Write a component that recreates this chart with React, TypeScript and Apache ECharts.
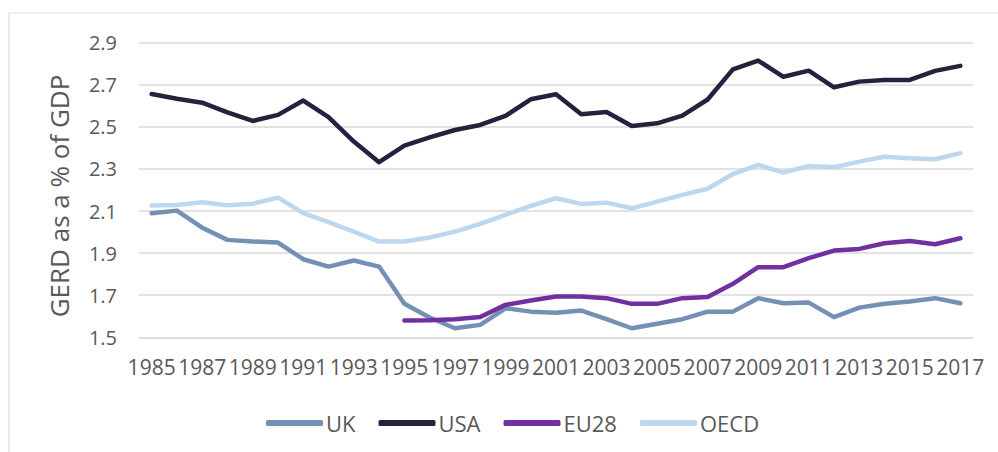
import React, { useEffect, useRef } from "react";
import * as echarts from "echarts";

const years: string[] = [];
for (let y = 1985; y <= 2017; y++) years.push(String(y));

const uk = [2.09, 2.102, 2.021, 1.963, 1.955, 1.95, 1.871, 1.836, 1.865, 1.836, 1.659, 1.594, 1.543, 1.559, 1.638, 1.622, 1.617, 1.627, 1.586, 1.543, 1.564, 1.586, 1.622, 1.622, 1.686, 1.662, 1.665, 1.596, 1.641, 1.659, 1.67, 1.686, 1.662];
const usa = [2.656, 2.634, 2.615, 2.569, 2.528, 2.557, 2.625, 2.546, 2.43, 2.332, 2.411, 2.45, 2.485, 2.509, 2.552, 2.631, 2.655, 2.56, 2.571, 2.504, 2.517, 2.553, 2.63, 2.773, 2.815, 2.738, 2.767, 2.688, 2.715, 2.723, 2.723, 2.766, 2.79];
const eu28 = [null, null, null, null, null, null, null, null, null, null, 1.58, 1.581, 1.586, 1.596, 1.654, 1.675, 1.694, 1.694, 1.686, 1.659, 1.659, 1.686, 1.692, 1.754, 1.833, 1.833, 1.876, 1.912, 1.92, 1.947, 1.958, 1.942, 1.971];
const oecd = [2.126, 2.129, 2.142, 2.128, 2.135, 2.164, 2.09, 2.047, 2.002, 1.955, 1.955, 1.974, 2.002, 2.039, 2.082, 2.124, 2.161, 2.134, 2.14, 2.113, 2.145, 2.177, 2.206, 2.276, 2.319, 2.283, 2.314, 2.308, 2.335, 2.358, 2.351, 2.346, 2.375];

const seriesNames = ["UK", "USA", "EU28", "OECD"];
const seriesColors = ["#7590b5", "#24233d", "#7030a0", "#bdd7ee"];
const seriesData = [uk, usa, eu28, oecd];

const FONT = "'Open Sans', 'Liberation Sans', sans-serif";
const TEXT = "#595959";

export default function App() {
  const ref = useRef<HTMLDivElement>(null);
  useEffect(() => {
    if (!ref.current) return;
    const chart = echarts.init(ref.current, null, { renderer: "svg" });
    chart.setOption({
      animation: false,
      backgroundColor: "#ffffff",
      textStyle: { fontFamily: FONT },
      grid: { left: 139, right: 25, top: 42.7, bottom: 114.7, containLabel: false },
      legend: {
        data: seriesNames,
        left: 261,
        top: 407,
        icon: "roundRect",
        itemWidth: 57,
        itemHeight: 6,
        itemGap: 23,
        textStyle: { color: TEXT, fontSize: 22, fontFamily: FONT, padding: [0, 0, 0, -2] },
      },
      xAxis: {
        type: "category",
        data: years,
        boundaryGap: true,
        axisLine: { show: true, lineStyle: { color: "#d9d9d9", width: 1.5 } },
        axisTick: { show: false },
        axisLabel: { interval: 1, color: TEXT, fontSize: 21, margin: 19, fontFamily: FONT },
      },
      yAxis: {
        type: "value",
        min: 1.5,
        max: 2.9,
        interval: 0.2,
        name: "GERD as a % of GDP",
        nameLocation: "middle",
        nameGap: 67,
        nameRotate: 90,
        nameTextStyle: { color: TEXT, fontSize: 26, fontFamily: FONT, padding: [0, 12, 0, 0] },
        axisLine: { show: false },
        axisTick: { show: false },
        axisLabel: { color: TEXT, fontSize: 20, margin: 22, fontFamily: FONT, formatter: (v: number) => v.toFixed(1) },
        splitLine: { show: true, lineStyle: { color: "#d9d9d9", width: 1.5 } },
      },
      series: seriesNames.map((n, i) => ({
        name: n,
        type: "line",
        data: seriesData[i],
        showSymbol: false,
        symbol: "none",
        connectNulls: false,
        color: seriesColors[i],
        lineStyle: { color: seriesColors[i], width: 4.5, cap: "round", join: "round" },
        z: 2 + (i === 1 ? 1 : 0),
      })),
      graphic: [
        { type: "line", shape: { x1: 9, y1: 13, x2: 998, y2: 13 }, style: { stroke: "#d9d9d9", lineWidth: 1 } },
        { type: "line", shape: { x1: 9, y1: 13, x2: 9, y2: 452 }, style: { stroke: "#d9d9d9", lineWidth: 1 } },
      ],
    });
    return () => chart.dispose();
  }, []);
  return <div ref={ref} style={{ position: "fixed", left: 0, top: 0, width: 998, height: 452 }} />;
}
